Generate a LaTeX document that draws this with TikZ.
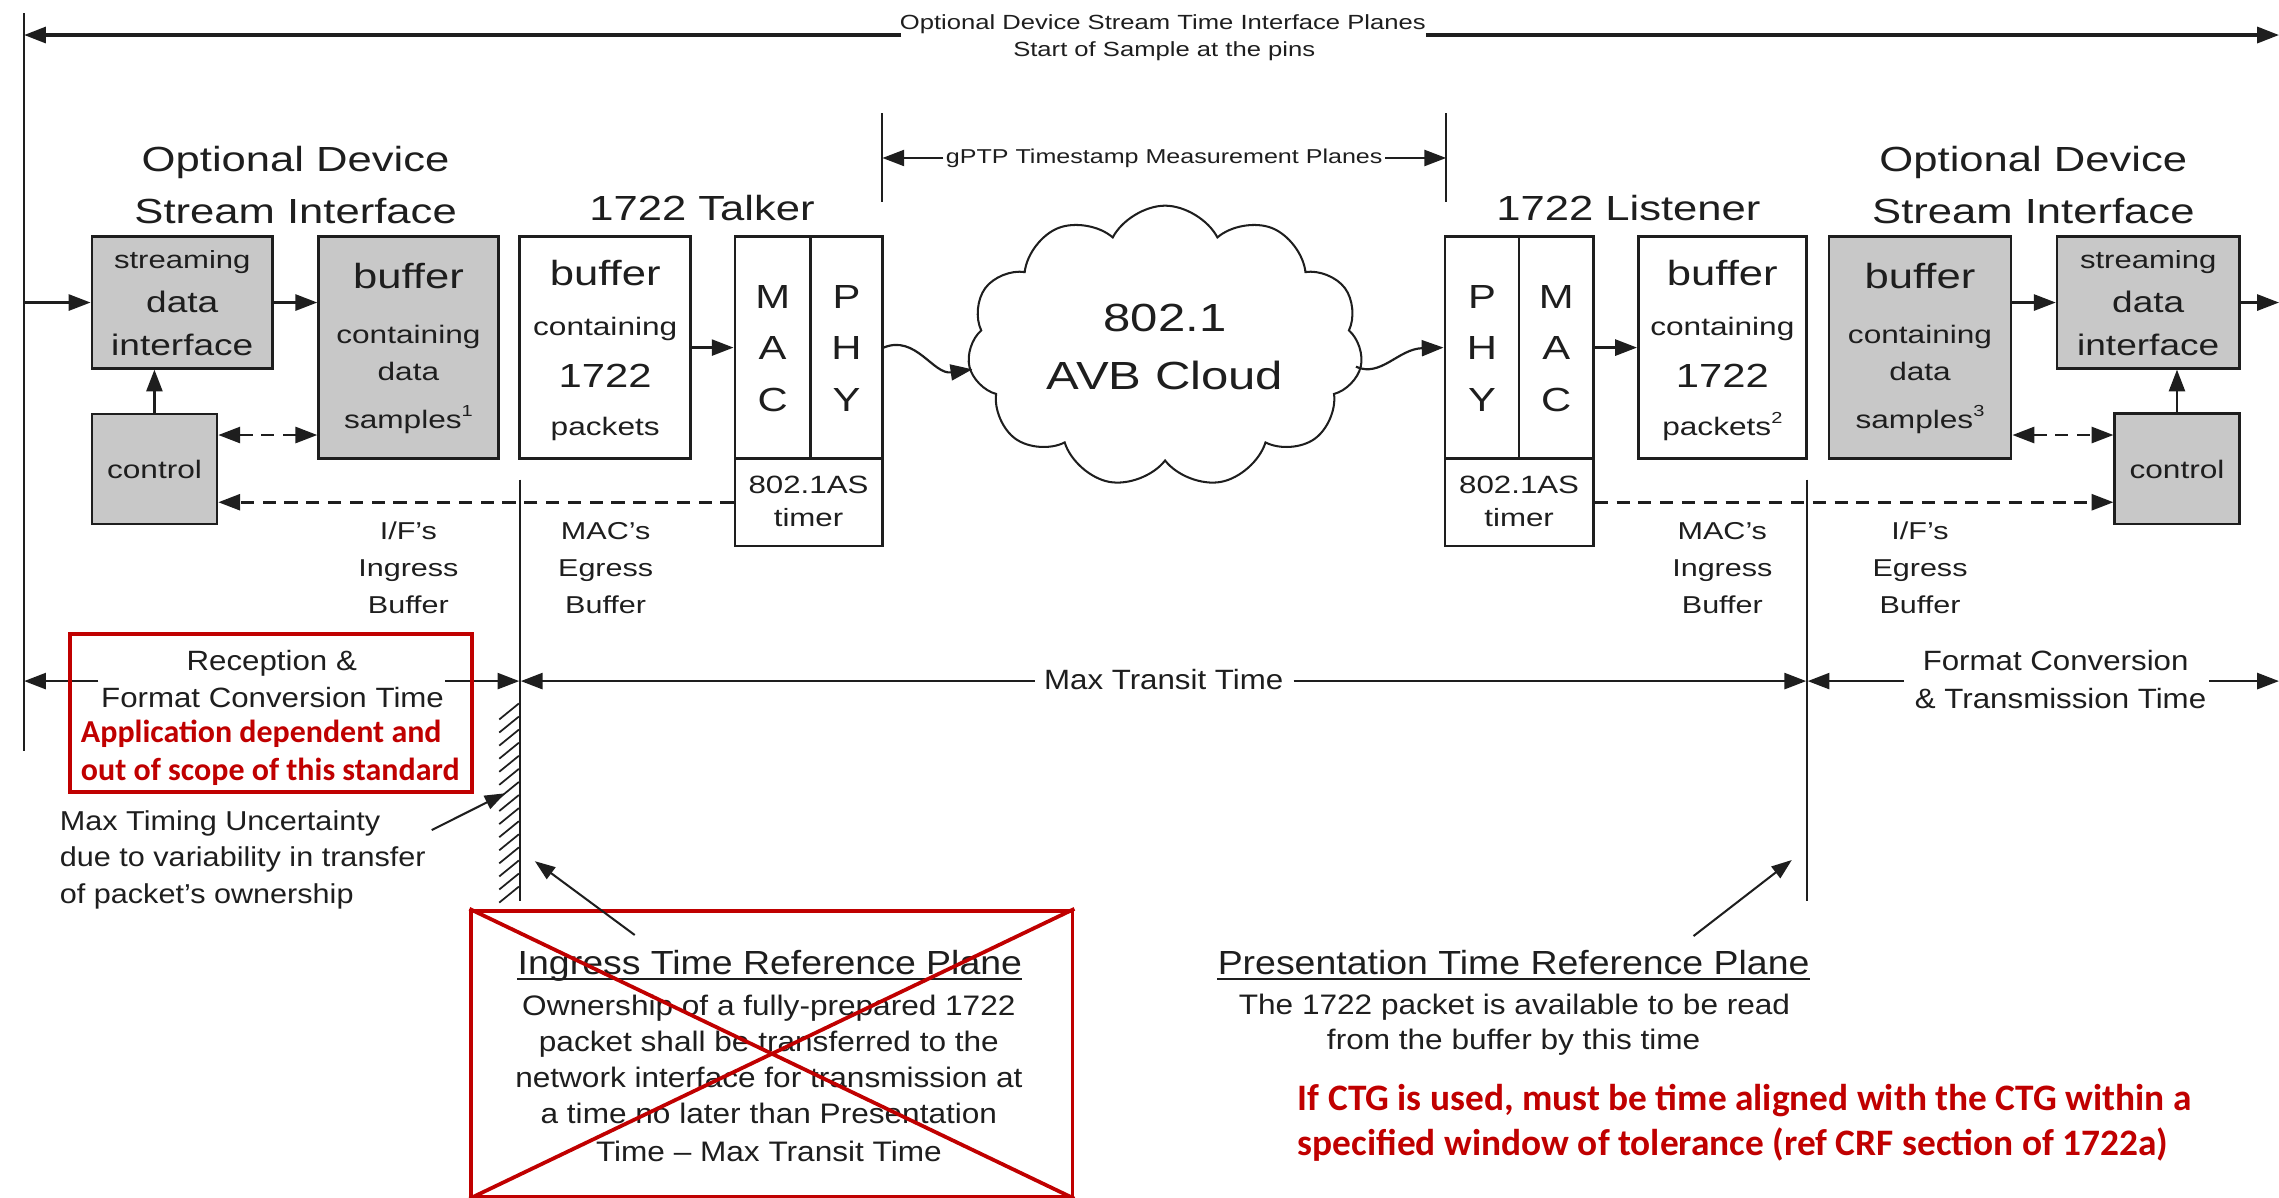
\documentclass[tikz,border=0pt]{standalone}
\usepackage{fontspec}
\setmainfont{Liberation Sans}
\newfontfamily\upf[FakeStretch=1.25]{Liberation Sans}
\newfontfamily\lof[FakeStretch=1.12]{Liberation Sans}
\newfontfamily\redf{Carlito}
\usetikzlibrary{arrows.meta,shapes.symbols}
\definecolor{boxgray}{RGB}{200,200,200}
\definecolor{darkred}{RGB}{192,0,0}
\definecolor{ink}{RGB}{30,30,30}
\newcommand\fs[1]{\fontsize{#1}{#1}\selectfont}
\newcommand\supr[1]{\raisebox{8pt}{\fs{11}#1}}
\begin{document}
\begin{tikzpicture}[x=1pt,y=-1pt,
  box/.style={draw=ink,line width=1.8pt,inner sep=0pt},
  gbox/.style={box,fill=boxgray},
  wbox/.style={box,fill=white},
  ut/.style={anchor=base,inner sep=0pt,text=ink,font=\upf\fs{#1}},
  lt/.style={anchor=base,inner sep=0pt,text=ink,font=\lof\fs{#1}},
  ltw/.style={anchor=base west,inner sep=0pt,text=ink,font=\lof\fs{#1}},
  rt/.style={anchor=base west,inner sep=0pt,text=darkred,font=\redf\bfseries\fs{#1}},
  arr/.style={draw=ink,line width=1.8pt,-{Triangle[length=15pt,width=11pt]}},
  tarr/.style={draw=ink,line width=1.4pt,-{Triangle[length=14pt,width=10pt]}},
  darr/.style={arr,dash pattern=on 9pt off 6pt},
  darrb/.style={draw=ink,line width=1.8pt,dash pattern=on 9pt off 6pt,{Triangle[length=15pt,width=11pt]}-{Triangle[length=15pt,width=11pt]}},
  plane/.style={draw=ink,line width=1.3pt},
  redbox/.style={draw=darkred,line width=2.6pt,inner sep=0pt}
]
\useasboundingbox (0,0) rectangle (1568,824);

% ---------- top span ----------
\node[ut=14.1] (top1) at (800,20.6) {Optional Device Stream Time Interface Planes};
\node[ut=14.1] (top2) at (801,39) {Start of Sample at the pins};
\coordinate (edgeTop) at (16.6,9.2);
\coordinate (edgeBot) at (16.6,517);
\draw[plane] (edgeTop) -- (edgeBot);
\coordinate (topLa) at (620,24.1);
\coordinate (topLb) at (16.6,24.1);
\coordinate (topRa) at (981,24.1);
\coordinate (topRb) at (1568,24.1);
\draw[arr,line width=2.2pt] (topLa) -- (topLb);
\draw[arr,line width=2.2pt] (topRa) -- (topRb);

% ---------- gPTP span ----------
\coordinate (gA1) at (607.1,78); \coordinate (gA2) at (607.1,138.8);
\coordinate (gB1) at (995,78); \coordinate (gB2) at (995,138.8);
\draw[plane] (gA1) -- (gA2);
\draw[plane] (gB1) -- (gB2);
\node[ut=13.8] (gptp) at (801,112.4) {gPTP Timestamp Measurement Planes};
\coordinate (gLa) at (649,108.7); \coordinate (gRa) at (953,108.7);
\draw[arr,line width=1.6pt] (gLa) -- (gA1 |- gLa);
\draw[arr,line width=1.6pt] (gRa) -- (gB1 |- gRa);

% ---------- titles ----------
\node[ut=24] (titL1) at (203.4,118.1) {Optional Device};
\node[ut=24] (titL2) at (203.4,153.7) {Stream Interface};
\node[ut=24] (talk) at (483,151.8) {1722 Talker};
\node[ut=24] (list) at (1120.4,151.8) {1722 Listener};
\node[ut=24] (titR1) at (1399,118.1) {Optional Device};
\node[ut=24] (titR2) at (1399,153.7) {Stream Interface};

% ---------- left device ----------
\node[gbox,minimum width=124.4pt,minimum height=90.5pt] (sdiL) at (125.4,208.15) {};
\node[gbox,minimum width=86.1pt,minimum height=75.6pt] (ctlL) at (106.25,322.7) {};
\node[gbox,minimum width=123.6pt,minimum height=152.5pt] (bufL) at (281,239.15) {};
\node[ut=17.1] (sdiL1) at (125.4,184.6) {streaming};
\node[ut=20.4] (sdiL2) at (125.4,215.1) {data};
\node[ut=20.4] (sdiL3) at (125.4,244.3) {interface};
\node[ut=17.4] (ctlLt) at (106.3,329.1) {control};
\node[ut=24] (bufL1) at (281,198.4) {buffer};
\node[ut=17.4] (bufL2) at (281,236.2) {containing};
\node[ut=17.4] (bufL3) at (281,261.5) {data};
\node[ut=17.4] (bufL4) at (281,294.7) {samples\supr{1}};

% ---------- talker ----------
\node[wbox,minimum width=117.7pt,minimum height=152.5pt] (tbuf) at (416.35,239.15) {};
\node[wbox,minimum width=52.1pt,minimum height=152.5pt] (macT) at (531.65,239.15) {};
\node[wbox,minimum width=49.3pt,minimum height=152.5pt] (phyT) at (582.35,239.15) {};
\node[wbox,minimum width=101.4pt,minimum height=60.3pt] (timT) at (556.3,345.55) {};
\node[ut=24] (tbuf1) at (416.4,196.1) {buffer};
\node[ut=17.4] (tbuf2) at (416.4,230.5) {containing};
\node[ut=23] (tbuf3) at (416.4,266.5) {1722};
\node[ut=17.4] (tbuf4) at (416.4,299.3) {packets};
\node[ut=23] (macT1) at (531.6,212.1) {M};
\node[ut=23] (macT2) at (531.6,247.2) {A};
\node[ut=23] (macT3) at (531.6,283.3) {C};
\node[ut=23] (phyT1) at (582.4,212.1) {P};
\node[ut=23] (phyT2) at (582.4,247.2) {H};
\node[ut=23] (phyT3) at (582.4,283.3) {Y};
\node[ut=17.2] (timT1) at (556.3,339.4) {802.1AS};
\node[ut=17.2] (timT2) at (556.3,362.4) {timer};

% ---------- cloud ----------
\node[cloud,draw=ink,line width=1.4pt,cloud puffs=11,cloud puff arc=125,aspect=1.4,minimum width=272pt,minimum height=194pt,inner sep=0pt] (cloud) at (801.6,238.5) {};
\node[ut=27] (cl1) at (801.6,228.2) {802.1};
\node[ut=27] (cl2) at (801.6,268.3) {AVB Cloud};

% ---------- listener ----------
\node[wbox,minimum width=50.9pt,minimum height=152.5pt] (phyR) at (1019.55,239.15) {};
\node[wbox,minimum width=51.3pt,minimum height=152.5pt] (macR) at (1070.65,239.15) {};
\node[wbox,minimum width=102.2pt,minimum height=60.3pt] (timR) at (1045.2,345.55) {};
\node[wbox,minimum width=115.7pt,minimum height=152.5pt] (lbuf) at (1185.05,239.15) {};
\node[ut=23] (phyR1) at (1019.6,212.1) {P};
\node[ut=23] (phyR2) at (1019.6,247.2) {H};
\node[ut=23] (phyR3) at (1019.6,283.3) {Y};
\node[ut=23] (macR1) at (1070.7,212.1) {M};
\node[ut=23] (macR2) at (1070.7,247.2) {A};
\node[ut=23] (macR3) at (1070.7,283.3) {C};
\node[ut=17.2] (timR1) at (1045.2,339.4) {802.1AS};
\node[ut=17.2] (timR2) at (1045.2,362.4) {timer};
\node[ut=24] (lbuf1) at (1185,196.1) {buffer};
\node[ut=17.4] (lbuf2) at (1185,230.5) {containing};
\node[ut=23] (lbuf3) at (1185,266.5) {1722};
\node[ut=17.4] (lbuf4) at (1185,299.3) {packets\supr{2}};

% ---------- right device ----------
\node[gbox,minimum width=125.4pt,minimum height=152.5pt] (bufR) at (1321,239.15) {};
\node[gbox,minimum width=125.3pt,minimum height=90.5pt] (sdiR) at (1477.95,208.15) {};
\node[gbox,minimum width=85.6pt,minimum height=76pt] (ctlR) at (1497.8,322.45) {};
\node[ut=24] (bufR1) at (1321,198.4) {buffer};
\node[ut=17.4] (bufR2) at (1321,236.2) {containing};
\node[ut=17.4] (bufR3) at (1321,261.5) {data};
\node[ut=17.4] (bufR4) at (1321,294.7) {samples\supr{3}};
\node[ut=17.1] (sdiR1) at (1478,184.6) {streaming};
\node[ut=20.4] (sdiR2) at (1478,215.1) {data};
\node[ut=20.4] (sdiR3) at (1478,244.3) {interface};
\node[ut=17.4] (ctlRt) at (1497.8,329.1) {control};

% ---------- block connectors ----------
\coordinate (inL) at (16.6,208.15);
\draw[arr] (inL) -- (sdiL.west);
\draw[arr] (sdiL.east) -- (sdiL.east -| bufL.west);
\draw[arr] (ctlL.north) -- (ctlL.north |- sdiL.south);
\coordinate (dL) at ([yshift=23.4pt]ctlL.east);
\draw[darrb] (dL) -- (dL -| bufL.west);
\draw[darr] (timT.west) -- (timT.west -| ctlL.east);
\draw[arr] (tbuf.east) -- (tbuf.east -| macT.west);
\coordinate (cIn) at (669,254.1);
\draw[arr,line width=1.5pt] (phyT.east) .. controls (630,230) and (642,258) .. (cIn);
\coordinate (cOut) at (932.9,252.3);
\draw[arr,line width=1.5pt] (cOut) .. controls (950,260) and (962,240) .. (phyR.west);
\draw[arr] (macR.east) -- (macR.east -| lbuf.west);
\draw[arr] (sdiR.west -| bufR.east) -- (sdiR.west);
\coordinate (outR) at (1568,208.15);
\draw[arr] (sdiR.east) -- (outR);
\draw[arr] (ctlR.north) -- (ctlR.north |- sdiR.south);
\coordinate (dR) at ([yshift=23.15pt]ctlR.west);
\draw[darrb] (dR -| bufR.east) -- (dR);
\draw[darr] (timR.east) -- (timR.east -| ctlR.west);

% ---------- buffer labels ----------
\node[ut=16.8] (ifL1) at (281,371.5) {I/F’s};
\node[ut=16.8] (ifL2) at (281,396.8) {Ingress};
\node[ut=16.8] (ifL3) at (281,422) {Buffer};
\node[ut=16.8] (mcL1) at (416.7,371.5) {MAC’s};
\node[ut=16.8] (mcL2) at (416.7,396.8) {Egress};
\node[ut=16.8] (mcL3) at (416.7,422) {Buffer};
\node[ut=16.8] (mcR1) at (1185,371.5) {MAC’s};
\node[ut=16.8] (mcR2) at (1185,396.8) {Ingress};
\node[ut=16.8] (mcR3) at (1185,422) {Buffer};
\node[ut=16.8] (ifR1) at (1321,371.5) {I/F’s};
\node[ut=16.8] (ifR2) at (1321,396.8) {Egress};
\node[ut=16.8] (ifR3) at (1321,422) {Buffer};

% ---------- reference planes ----------
\coordinate (pLt) at (357.8,330); \coordinate (pLb) at (357.8,620);
\coordinate (pRt) at (1243.2,330); \coordinate (pRb) at (1243.2,620);
\draw[plane] (pLt) -- (pLb);
\draw[plane] (pRt) -- (pRb);
\foreach \yy in {484,493,...,612} \draw[line width=1.2pt,ink] (343.5,{\yy+11}) -- (357,\yy);

% ---------- time spans ----------
\node[lt=19.2] (recA) at (187,461.4) {Reception \&};
\node[lt=19.2] (recB) at (187.5,486.9) {Format Conversion Time};
\node[lt=19.2] (mtt) at (800.6,474.5) {Max Transit Time};
\node[lt=19.2] (fcA) at (1414.3,461.4) {Format Conversion};
\node[lt=19.2] (fcB) at (1417.7,487.4) {\& Transmission Time};
\coordinate (s1a) at (67.6,468.6);  \coordinate (s1b) at (16.6,468.6);
\coordinate (s2a) at (306.5,468.6); \coordinate (s2b) at (357.3,468.6);
\coordinate (s3a) at (712,468.6);   \coordinate (s3b) at (358.3,468.6);
\coordinate (s4a) at (890,468.6);   \coordinate (s4b) at (1242.7,468.6);
\coordinate (s5a) at (1310,468.6);  \coordinate (s5b) at (1243.7,468.6);
\coordinate (s6a) at (1520,468.6);  \coordinate (s6b) at (1568,468.6);
\draw[arr] (s1a) -- (s1b);
\draw[arr] (s2a) -- (s2b);
\draw[arr] (s3a) -- (s3b);
\draw[arr] (s4a) -- (s4b);
\draw[arr] (s5a) -- (s5b);
\draw[arr] (s6a) -- (s6b);

\node[redbox,minimum width=276.5pt,minimum height=108.5pt] (appBox) at (186.55,490.45) {};
\node[rt=22] (app1) at (55.5,511) {Application dependent and};
\node[rt=22] (app2) at (55.5,536.7) {out of scope of this standard};

% ---------- uncertainty ----------
\node[ltw=18.8] (mtu1) at (41,571.1) {Max Timing Uncertainty};
\node[ltw=18.8] (mtu2) at (41,596.3) {due to variability in transfer};
\node[ltw=18.8] (mtu3) at (41,621.4) {of packet’s ownership};
\coordinate (mtuT) at (297,571.1); \coordinate (mtuH) at (347.5,545.8);
\draw[tarr] (mtuT) -- (mtuH);

% ---------- ingress plane note ----------
\node[redbox,minimum width=413.6pt,minimum height=196.8pt] (xBox) at (531.1,725) {};
\node[lt=23] (ingT) at (529.7,670.8) {Ingress Time Reference Plane};
\draw[line width=1.5pt,ink] ([yshift=-3pt]ingT.base west) -- ([yshift=-3pt]ingT.base east);
\node[lt=19.4] (ing1) at (529,698.4) {Ownership of a fully-prepared 1722};
\node[lt=19.4] (ing2) at (529,723.6) {packet shall be transferred to the};
\node[lt=19.4] (ing3) at (529,748.1) {network interface for transmission at};
\node[lt=19.4] (ing4) at (529,772.9) {a time no later than Presentation};
\node[lt=19.4] (ing5) at (529,799.3) {Time – Max Transit Time};
\draw[draw=darkred,line width=2.6pt] (xBox.north west) -- (xBox.south east);
\draw[draw=darkred,line width=2.6pt] (xBox.south west) -- (xBox.north east);
\coordinate (ingA) at (436.7,643.3); \coordinate (ingH) at (368,592.5);
\draw[tarr] (ingA) -- (ingH);

% ---------- presentation plane note ----------
\node[lt=23] (preT) at (1041.4,670.8) {Presentation Time Reference Plane};
\draw[line width=1.5pt,ink] ([yshift=-3pt]preT.base west) -- ([yshift=-3pt]preT.base east);
\node[lt=19.4] (pre1) at (1042,697.7) {The 1722 packet is available to be read};
\node[lt=19.4] (pre2) at (1041.4,722.4) {from the buffer by this time};
\coordinate (preA) at (1165.2,644); \coordinate (preH) at (1232.8,591.7);
\draw[tarr] (preA) -- (preH);

\node[rt=25.7] (ctg1) at (892.8,763.7) {If CTG is used, must be time aligned with the CTG within a};
\node[rt=25.7] (ctg2) at (892.8,794.7) {specified window of tolerance (ref CRF section of 1722a)};
\end{tikzpicture}
\end{document}
